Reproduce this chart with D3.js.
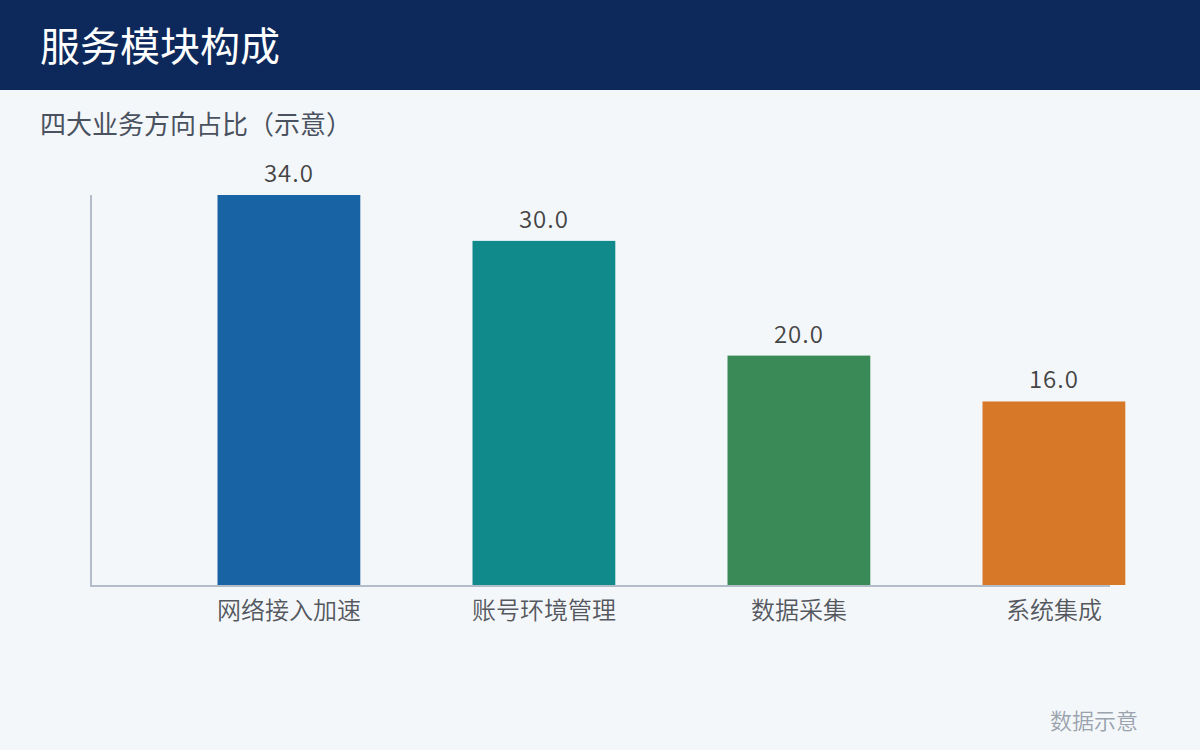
<!DOCTYPE html>
<html>
<head>
<meta charset="utf-8">
<script src="https://cdn.jsdelivr.net/npm/d3@7"></script>
<style>
  html, body { margin: 0; padding: 0; background: #f4f7fa; }
  svg { display: block; font-family: "Noto Sans CJK SC", "Noto Sans", sans-serif; }
</style>
</head>
<body>
<svg id="chart" width="1200" height="750"></svg>
<script>
const title = "服务模块构成";
const subtitle = "四大业务方向占比（示意）";
const footnote = "数据示意";
const categories = ["网络接入加速", "账号环境管理", "数据采集", "系统集成"];
const values = [34, 30, 20, 16];
const colors = ["#1763a3", "#118a8c", "#3a8a58", "#d67828"];

const W = 1200, H = 750;
const svg = d3.select("#chart");

svg.append("rect").attr("width", W).attr("height", H).attr("fill", "#f4f7fa");
svg.append("rect").attr("width", W).attr("height", 90).attr("fill", "#0d295b");
svg.append("text").attr("x", 40).attr("y", 61).attr("fill", "#ffffff")
  .attr("font-size", 40).text(title);
svg.append("text").attr("x", 40).attr("y", 134).attr("fill", "#4a5260")
  .attr("font-size", 26).text(subtitle);

const mLeft = 90, mRight = 1110, mTop = 195, mBottom = 585;
const x = d3.scaleBand().domain(categories).range([mLeft, mRight])
  .paddingInner(0.44).paddingOuter(0.22);
const y = d3.scaleLinear().domain([0, d3.max(values)]).range([mBottom, mTop]);

const data = categories.map((c, i) => ({ c, v: values[i], col: colors[i] }));
const bw = x.bandwidth();

svg.append("g").selectAll("rect").data(data).join("rect")
  .attr("x", d => x(d.c) + bw / 2)
  .attr("y", d => y(d.v))
  .attr("width", bw)
  .attr("height", d => y(0) - y(d.v))
  .attr("fill", d => d.col);

svg.append("g").selectAll("text").data(data).join("text")
  .attr("x", d => x(d.c) + bw)
  .attr("y", d => y(d.v) - 13)
  .attr("text-anchor", "middle")
  .attr("font-size", 24)
  .attr("font-weight", 350)
  .attr("letter-spacing", 1)
  .attr("fill", "#444444")
  .text(d => d3.format(".1f")(d.v));

// axes
const xAxis = svg.append("g").attr("transform", `translate(0,${mBottom + 1})`)
  .call(d3.axisBottom(x).tickSize(0).tickPadding(0));
xAxis.select(".domain").attr("stroke", "#b3bdc9").attr("stroke-width", 2)
  .attr("d", `M${mLeft},0H${mRight}`);
xAxis.selectAll(".tick").attr("transform", d => `translate(${x(d) + bw},0)`);
xAxis.selectAll(".tick text").attr("font-size", 24).attr("fill", "#55585e")
  .attr("font-weight", 350)
  .attr("font-family", "Noto Sans CJK SC").attr("dy", null).attr("y", 33);

const yAxis = svg.append("g").attr("transform", `translate(${mLeft + 1},0)`)
  .call(d3.axisLeft(y).tickValues([]).tickSize(0));
yAxis.select(".domain").attr("stroke", "#b3bdc9").attr("stroke-width", 2)
  .attr("d", `M0,${mTop}V${mBottom + 2}`);

svg.append("text").attr("x", 1138).attr("y", 729).attr("text-anchor", "end")
  .attr("fill", "#9aa3ae").attr("font-size", 22).attr("font-weight", 350).text(footnote);
</script>
</body>
</html>
